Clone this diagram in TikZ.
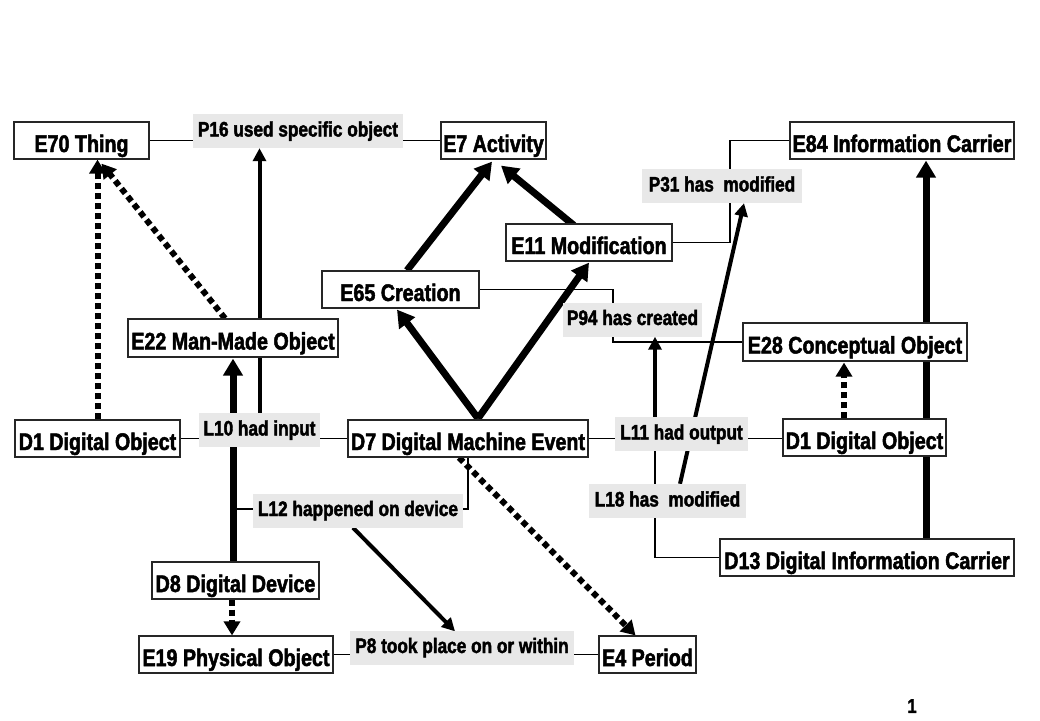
\documentclass[tikz,border=0pt]{standalone}
\usepackage{fontspec}
\setmainfont[FakeStretch=0.82, BoldFeatures={FakeBold=2}]{Liberation Sans}
\usetikzlibrary{arrows.meta,backgrounds}
\definecolor{lblgray}{RGB}{232,232,232}
\begin{document}
\begin{tikzpicture}[x=1pt,y=-1pt,
 box/.style={draw=black!85, line width=1.2pt, fill=white, inner sep=0pt, minimum height=37pt, text height=23pt, text depth=0pt, font=\fontsize{24}{26}\selectfont\bfseries},
 lbl/.style={fill=lblgray, inner sep=0pt, minimum height=34pt, text height=11pt, text depth=0pt, font=\fontsize{21}{23}\selectfont\bfseries},
 conn/.style={line width=1.2pt, draw=black},
 bigarrow/.style={line width=7pt, -{Triangle[length=17pt,width=19pt]}},
 midarrow/.style={line width=4pt, -{Triangle[length=13pt,width=13pt]}},
 dasharrow/.style={line width=6pt, dash pattern=on 6pt off 4pt, -{Triangle[length=14pt,width=16pt]}},
]
\useasboundingbox (0,0) rectangle (1040,720);

% boxes
\node[box, minimum width=135pt] (E70) at (81.5,140.5) {E70 Thing};
\node[box, minimum width=105pt] (E7) at (493.5,140.5) {E7 Activity};
\node[box, minimum width=224pt] (E84) at (902,140.5) {E84 Information Carrier};
\node[box, minimum width=166pt] (E11) at (589,242.5) {E11 Modification};
\node[box, minimum width=157pt] (E65) at (400.5,289.5) {E65 Creation};
\node[box, minimum width=210pt, minimum height=38pt] (E22) at (233,338) {E22 Man-Made Object};
\node[box, minimum width=224pt, minimum height=38pt] (E28) at (855,342) {E28 Conceptual Object};
\node[box, minimum width=165pt] (D1L) at (97.5,438.5) {D1 Digital Object};
\node[box, minimum width=240pt] (D7) at (468,438.5) {D7 Digital Machine Event};
\node[box, minimum width=163pt] (D1R) at (864.5,437.5) {D1 Digital Object};
\node[box, minimum width=294pt] (D13) at (867,557.5) {D13 Digital Information Carrier};
\node[box, minimum width=167pt] (D8) at (235.5,580.5) {D8 Digital Device};
\node[box, minimum width=194pt] (E19) at (236,654.5) {E19 Physical Object};
\node[box, minimum width=97pt] (E4) at (647.5,654.5) {E4 Period};

% labels
\node[lbl, minimum width=210pt] (P16) at (298,131) {P16 used specific object};
\node[lbl, minimum width=160pt] (P31) at (722,186) {P31 has\ \ modified};
\node[lbl, minimum width=139pt] (P94) at (632.5,319.5) {P94 has created};
\node[lbl, minimum width=121pt] (L10) at (259.5,430) {L10 had input};
\node[lbl, minimum width=133pt] (L11) at (681.5,434) {L11 had output};
\node[lbl, minimum width=210pt] (L12) at (358,510.5) {L12 happened on device};
\node[lbl, minimum width=157pt] (L18) at (667.5,501) {L18 has\ \ modified};
\node[lbl, minimum width=224pt] (P8) at (462,647.5) {P8 took place on or within};

\node[font=\fontsize{20}{22}\selectfont\bfseries, anchor=north, inner sep=1pt] (pg) at (912,698) {1};

\coordinate (j12) at (233,509);

\begin{scope}[on background layer]
\fill[white] (0,0) rectangle (1040,720);
% thin connectors
\draw[conn] (E70) -- (E7);
\draw[conn] (E11.east) -| ([xshift=8pt]P31.center) |- (E84.west);
\draw[conn] (E65.east) -| ([xshift=-19.5pt]P94.center) |- (E28.west);
\draw[conn] (D1L) -- (D7);
\draw[conn] (D7.east) -- (D7.east -| D1R.west);
\draw[conn] ([xshift=-26.5pt]L11.center) |- (D13.west);
\draw[conn] (D7.south) |- (j12);
\draw[conn] (E19) -- (E4);
% arrows
\draw[dasharrow] (D1L.north) -- (D1L.north |- E70.south);
\draw[dasharrow] ([xshift=-8pt]E22.north) -- ([xshift=20pt,yshift=-4pt]E70.south);
\draw[midarrow] (L10.north) -- (L10.north |- P16.south);
\draw[bigarrow] ([xshift=-2.5pt]D8.north) -- ([xshift=-2.5pt,yshift=-1pt]D8.north |- E22.south);
\draw[dasharrow] ([xshift=-3.5pt]D8.south) -- ([xshift=-3.5pt]D8.south |- E19.north);
\draw[bigarrow] ([xshift=10pt,yshift=1pt]D7.north) -- ([xshift=-3.5pt,yshift=-1pt]E65.south);
\draw[bigarrow] ([xshift=10pt,yshift=1pt]D7.north) -- ([yshift=-1pt]E11.south);
\draw[bigarrow] ([xshift=6.5pt]E65.north) -- ([xshift=-1.5pt,yshift=-2pt]E7.south);
\draw[bigarrow] ([xshift=-15pt,yshift=-2pt]E11.north) -- ([xshift=7.5pt,yshift=-6pt]E7.south);
\draw[midarrow] ([xshift=-26.5pt]L11.north) -- ([xshift=-26.5pt]L11.north |- P94.south);
\draw[midarrow] ([xshift=12.5pt]L18.north) -- ([xshift=22pt]P31.south);
\draw[bigarrow] ([xshift=59pt]D13.north) -- ([xshift=59pt,yshift=-1pt]D13.north |- E84.south);
\draw[dasharrow] ([xshift=-20.5pt]D1R.north) -- ([xshift=-20.5pt,yshift=-1pt]D1R.north |- E28.south);
\draw[dasharrow] ([xshift=-9pt]D7.south) -- ([xshift=-12pt]E4.north);
\draw[midarrow] ([xshift=-5pt]L12.south) -- ([xshift=-7pt,yshift=-1pt]P8.north);
\end{scope}
\end{tikzpicture}
\end{document}
